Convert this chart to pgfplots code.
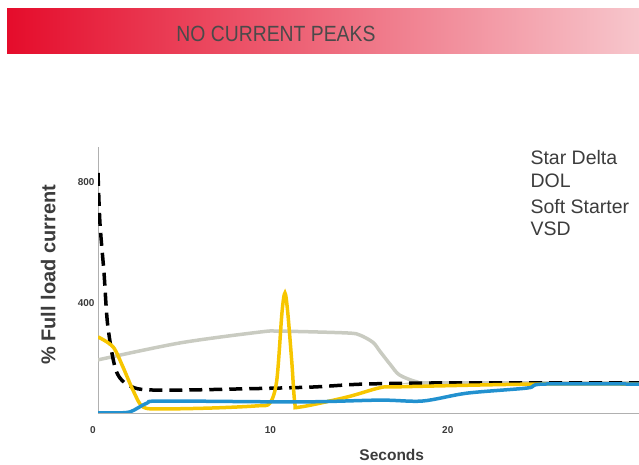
\documentclass[border=0pt]{standalone}
\usepackage{pgfplots}
\pgfplotsset{compat=1.18}
\usepackage{fontspec}
\setmainfont{Liberation Sans}

\definecolor{bannerL}{HTML}{E50C2B}
\definecolor{bannerM}{HTML}{EC5A6C}
\definecolor{bannerR}{HTML}{F7C6CC}
\definecolor{titlegrey}{HTML}{4A4A4A}
\definecolor{textgrey}{HTML}{3C3C3C}
\definecolor{axisgrey}{HTML}{B0B0B0}
\definecolor{stardelta}{HTML}{C9CBC1}
\definecolor{softstart}{HTML}{F7C600}
\definecolor{vsd}{HTML}{2291CF}

\begin{document}
\begin{tikzpicture}
\useasboundingbox (0pt,0pt) rectangle (639pt,465pt);

% title banner
\shade[left color=bannerL, middle color=bannerM, right color=bannerR]
  (7pt,411pt) rectangle (639pt,456pt);
\node[text=titlegrey, font=\fontsize{22}{24}\selectfont\addfontfeatures{FakeStretch=0.88}] at (276pt,431pt) {NO CURRENT PEAKS};

\begin{axis}[
	at={(98pt,52pt)}, anchor=south west,
	scale only axis,
	width=541pt, height=266pt,
	xmin=0, xmax=30.5,
	ymin=36.4, ymax=915.7,
	axis x line*=bottom,
	axis y line*=left,
	axis line style={draw=axisgrey, line width=0.8pt, -},
	xtick={0,10,20},
	ytick={400,800},
	major tick length=0pt,
	/pgf/number format/assume math mode=true,
	tick label style={font=\fontsize{10}{12}\selectfont\bfseries, text=textgrey},
	xticklabel style={yshift=-10pt, xshift=-5pt},
	xlabel={Seconds},
	ylabel={\% Full load current},
	xlabel style={at={(axis description cs:0.543,-0.158)}, anchor=center,
		font=\fontsize{15.5}{18}\selectfont\bfseries, text=textgrey},
	ylabel style={at={(axis description cs:-0.092,0.519)}, anchor=center,
		font=\fontsize{20}{24}\selectfont\bfseries, text=textgrey},
	every axis plot/.append style={line width=3.5pt, smooth, tension=0.5},
]

% Star Delta
\addplot[stardelta] coordinates {
(0,212) (4.62,268) (9.13,304) (10.25,307) (14.03,301) (14.76,294)
(15.5,270) (15.9,240) (16.5,195) (17.0,162) (18.0,139) (19,136) (30.5,136)
};

% DOL
\addplot[black, dash pattern=on 13pt off 7pt] coordinates {
(0,830) (0.11,664) (0.34,499) (0.56,321) (1.07,169) (2.08,119)
(4,112) (8,116) (12,122) (15,132) (20,136) (30.5,136)
};

% Soft Starter
\addplot[softstart] coordinates {
(0,288) (0.85,255) (1.41,188) (1.97,112) (2.54,56) (3.66,50) (6.48,53)
(8.96,60) (9.69,69) (10.08,145) (10.37,367) (10.54,433) (10.70,367)
(10.93,202) (11.1,69) (11.38,56) (14.03,89) (15.9,120) (17.0,123)
(24.5,132) (30.5,132)
};

% VSD
\addplot[vsd] coordinates {
(0,37) (0.85,37) (1.8,40) (2.76,69) (3.66,76) (11.38,73) (15.89,79)
(18.3,76) (20.8,102) (24.2,119) (25.1,132) (30.5,132)
};

\node[anchor=west, text=textgrey, font=\fontsize{19.5}{22}\selectfont] at (rel axis cs:0.793,0.959) {Star Delta};
\node[anchor=west, text=textgrey, font=\fontsize{19.5}{22}\selectfont] at (rel axis cs:0.793,0.872) {DOL};
\node[anchor=west, text=textgrey, font=\fontsize{19.5}{22}\selectfont] at (rel axis cs:0.793,0.778) {Soft Starter};
\node[anchor=west, text=textgrey, font=\fontsize{19.5}{22}\selectfont] at (rel axis cs:0.793,0.692) {VSD};
\end{axis}
\end{tikzpicture}
\end{document}
